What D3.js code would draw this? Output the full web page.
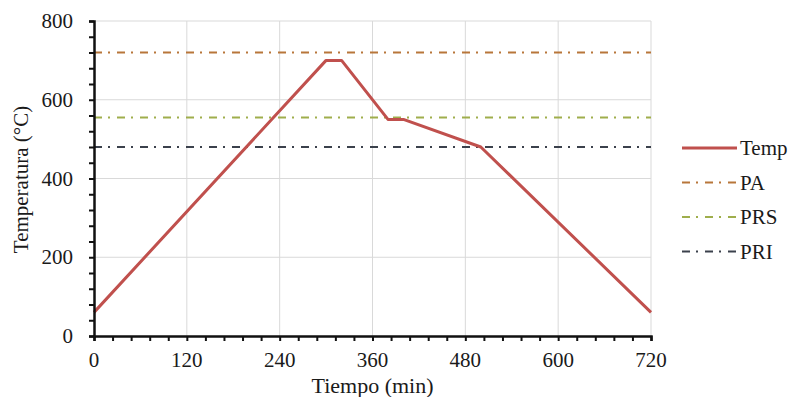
<!DOCTYPE html>
<html>
<head>
<meta charset="utf-8">
<script src="https://cdn.jsdelivr.net/npm/d3@7"></script>
<style>
  body { margin: 0; background: #fff; }
  text { font-family: "Liberation Serif", "Times New Roman", serif; fill: #1a1a1a; }
</style>
</head>
<body>
<div id="chart"></div>
<script>
// Data
var tiempo = [0, 300, 320, 380, 400, 500, 720];
var temp = [60, 700, 700, 550, 550, 480, 60];
var seriesNames = ["Temp", "PA", "PRS", "PRI"];
var limitNames = ["PA", "PRS", "PRI"];
var limitValues = [720, 555, 480];
var xTicks = [0, 120, 240, 360, 480, 600, 720];
var yTicks = [0, 200, 400, 600, 800];

var svgWidth = 797, svgHeight = 397;
var margin = { top: 21, right: 146, bottom: 61, left: 94 };
var chartWidth = svgWidth - margin.left - margin.right;
var chartHeight = svgHeight - margin.top - margin.bottom;

var colors = { Temp: "#c0504d", PA: "#b8763a", PRS: "#9fae4c", PRI: "#3b414c" };
var dash = "8,6,2,7";

var svg = d3.select("#chart").append("svg")
  .attr("width", svgWidth)
  .attr("height", svgHeight);

var chartGroup = svg.append("g")
  .attr("transform", "translate(" + margin.left + "," + margin.top + ")");

var xScale = d3.scaleLinear().domain([0, 720]).range([0, chartWidth]);
var yScale = d3.scaleLinear().domain([0, 800]).range([chartHeight, 0]);

// grid
chartGroup.selectAll(".vgrid").data(xTicks.slice(1)).enter().append("line")
  .attr("x1", function(d) { return xScale(d); }).attr("x2", function(d) { return xScale(d); })
  .attr("y1", 0).attr("y2", chartHeight)
  .attr("stroke", "#d9d9d9").attr("stroke-width", 1);
chartGroup.selectAll(".hgrid").data(yTicks.slice(1)).enter().append("line")
  .attr("y1", function(d) { return yScale(d); }).attr("y2", function(d) { return yScale(d); })
  .attr("x1", 0).attr("x2", chartWidth)
  .attr("stroke", "#d9d9d9").attr("stroke-width", 1);

// limit lines
chartGroup.selectAll(".limit").data(limitValues).enter().append("line")
  .attr("x1", 0).attr("x2", chartWidth)
  .attr("y1", function(d) { return yScale(d); }).attr("y2", function(d) { return yScale(d); })
  .attr("stroke", function(d, i) { return colors[limitNames[i]]; })
  .attr("stroke-width", 2)
  .attr("stroke-dasharray", dash);

// temperature line
var line = d3.line()
  .x(function(d, i) { return xScale(tiempo[i]); })
  .y(function(d) { return yScale(d); });

chartGroup.append("path")
  .datum(temp)
  .attr("d", line)
  .attr("fill", "none")
  .attr("stroke", colors.Temp)
  .attr("stroke-width", 3)
  .attr("stroke-linejoin", "round");

// axes
var bottomAxis = d3.axisBottom(xScale).tickValues(d3.range(0, 721, 24))
  .tickSize(5).tickFormat("");
var leftAxis = d3.axisLeft(yScale).tickValues(d3.range(0, 801, 40))
  .tickSize(5).tickFormat("");

var gx = chartGroup.append("g")
  .attr("transform", "translate(0," + chartHeight + ")")
  .call(bottomAxis);
var gy = chartGroup.append("g").call(leftAxis);
[gx, gy].forEach(function(g) {
  g.select(".domain").attr("stroke", "#111").attr("stroke-width", 2.5);
  g.selectAll(".tick line").attr("stroke", "#111").attr("stroke-width", 2);
});

chartGroup.selectAll(".xlab").data(xTicks).enter().append("text")
  .attr("x", function(d) { return xScale(d); })
  .attr("y", chartHeight + 31)
  .attr("text-anchor", "middle")
  .style("font-size", "21px")
  .text(function(d) { return d; });

chartGroup.selectAll(".ylab").data(yTicks).enter().append("text")
  .attr("x", -21)
  .attr("y", function(d) { return yScale(d) + 7; })
  .attr("text-anchor", "end")
  .style("font-size", "21px")
  .text(function(d) { return d; });

// axis titles
chartGroup.append("text")
  .attr("x", chartWidth / 2)
  .attr("y", chartHeight + 57)
  .attr("text-anchor", "middle")
  .style("font-size", "22px")
  .text("Tiempo (min)");

chartGroup.append("text")
  .attr("transform", "translate(" + (-66) + "," + (chartHeight / 2 + 1) + ") rotate(-90)")
  .attr("text-anchor", "middle")
  .style("font-size", "21px")
  .text("Temperatura (°C)");

// legend
var legend = svg.append("g").attr("transform", "translate(682,148)");
var items = legend.selectAll(".item").data(seriesNames).enter().append("g")
  .attr("transform", function(d, i) { return "translate(0," + (i * 34.5) + ")"; });
items.append("line")
  .attr("x1", 0).attr("x2", 55).attr("y1", 0).attr("y2", 0)
  .attr("stroke", function(d) { return colors[d]; })
  .attr("stroke-width", function(d) { return d === "Temp" ? 3 : 2; })
  .attr("stroke-dasharray", function(d) { return d === "Temp" ? null : dash; });
items.append("text")
  .attr("x", 58).attr("y", 7)
  .style("font-size", "21px")
  .text(function(d) { return d; });
</script>
</body>
</html>
